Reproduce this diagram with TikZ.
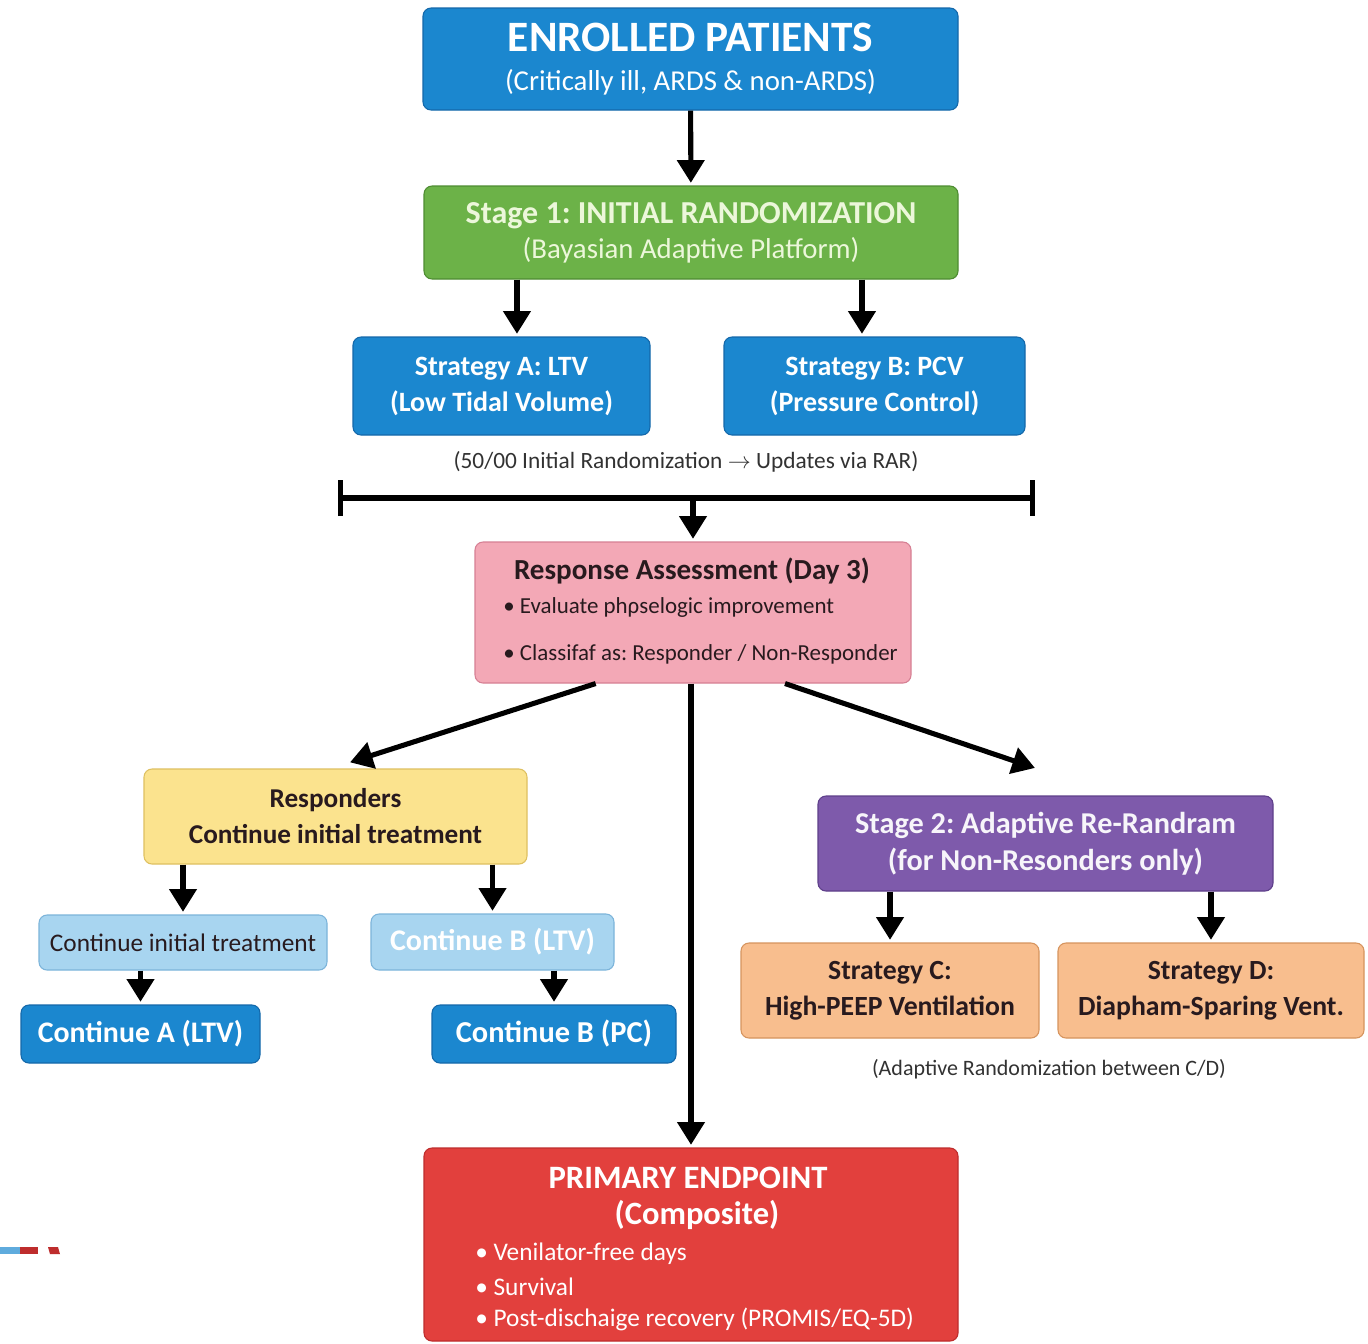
\documentclass[tikz,border=0pt]{standalone}
\usepackage{fontspec}
\setmainfont{Carlito}
\usetikzlibrary{arrows.meta}
\frenchspacing

\definecolor{boxblue}{RGB}{27,135,207}
\definecolor{boxblueD}{RGB}{20,104,170}
\definecolor{stgreen}{RGB}{108,178,72}
\definecolor{stgreenD}{RGB}{78,140,50}
\definecolor{stgreenT}{RGB}{236,247,218}
\definecolor{rpink}{RGB}{243,168,182}
\definecolor{rpinkD}{RGB}{214,128,148}
\definecolor{ryellow}{RGB}{251,227,142}
\definecolor{ryellowD}{RGB}{222,192,96}
\definecolor{lblue}{RGB}{168,213,240}
\definecolor{lblueD}{RGB}{124,180,218}
\definecolor{spurple}{RGB}{126,90,171}
\definecolor{spurpleD}{RGB}{94,63,138}
\definecolor{sorange}{RGB}{248,190,142}
\definecolor{sorangeD}{RGB}{214,148,94}
\definecolor{ered}{RGB}{226,64,61}
\definecolor{eredD}{RGB}{190,45,45}
\definecolor{darktxt}{RGB}{40,26,30}
\definecolor{notetxt}{RGB}{50,50,50}

\begin{document}
\begin{tikzpicture}[x=0.75pt,y=-0.75pt,
  box/.style={draw,rounded corners=6pt,line width=0.8pt,align=center,inner sep=0pt},
  arr/.style={line width=3.8pt,-{Triangle[length=17pt,width=20pt]},shorten >=2pt},
  txt/.style={inner sep=0pt},
  note/.style={txt,text=notetxt,font=\fontsize{17.5}{21}\selectfont},
]
\clip (0,0) rectangle (1368,1343);
\fill[white] (0,0) rectangle (1368,1343);

% top of the trial
\node[box,fill=boxblue,draw=boxblueD,text=white,minimum width=401.25pt,minimum height=76.5pt,
  font=\fontsize{21.6}{29.25}\selectfont] (enr) at (690.5,59)
  {{\fontsize{32.5}{32}\selectfont\bfseries ENROLLED PATIENTS}\\(Critically ill, ARDS \& non-ARDS)};
\node[box,fill=stgreen,draw=stgreenD,text=stgreenT,minimum width=400.5pt,minimum height=69.75pt,
  font=\fontsize{21.6}{26.25}\selectfont] (st1) at (691,232.5)
  {{\fontsize{24}{24}\selectfont\bfseries Stage 1: INITIAL RANDOMIZATION}\\(Bayasian Adaptive Platform)};
\node[box,fill=boxblue,draw=boxblueD,text=white,minimum width=222.75pt,minimum height=73.5pt,
  font=\fontsize{21}{27}\selectfont\bfseries] (sA) at (501.5,386)
  {Strategy A: LTV\\(Low Tidal Volume)};
\node[box,fill=boxblue,draw=boxblueD,text=white,minimum width=225.75pt,minimum height=73.5pt,
  font=\fontsize{21}{27}\selectfont\bfseries] (sB) at (874.5,386)
  {Strategy B: PCV\\(Pressure Control)};
\node[note] (rar) at (686,462) {(50/00 Initial Randomization $\rightarrow$ Updates via RAR)};

% day 3
\node[box,fill=rpink,draw=rpinkD,minimum width=327pt,minimum height=105.75pt] (resp) at (693,612.5) {};
\node[txt,text=darktxt,font=\fontsize{21.8}{26}\selectfont\bfseries] (respT) at (692,571) {Response Assessment (Day 3)};
\node[txt,text=darktxt,anchor=west,font=\fontsize{17.2}{20}\selectfont] (respB1) at (503,607) {• Evaluate phρselogic improvement};
\node[txt,text=darktxt,anchor=west,font=\fontsize{17.2}{20}\selectfont] (respB2) at (503,654) {• Classifaf as: Responder / Non-Responder};

\coordinate (barL) at (338,498);
\coordinate (barR) at (1035,498);
\coordinate (barC) at (resp.north |- barL);

% responders
\node[box,fill=ryellow,draw=ryellowD,text=darktxt,minimum width=287.25pt,minimum height=71.25pt,
  font=\fontsize{20.4}{27}\selectfont\bfseries] (yel) at (335.5,816.5)
  {Responders\\Continue initial treatment};
\node[box,fill=lblue,draw=lblueD,text=darktxt,minimum width=216pt,minimum height=41.25pt,
  font=\fontsize{19}{22}\selectfont] (lb1) at (183,942.5) {Continue initial treatment};
\node[box,fill=lblue,draw=lblueD,text=white,minimum width=182.25pt,minimum height=42pt,
  font=\fontsize{22.5}{26}\selectfont\bfseries] (lb2) at (492.5,942) {Continue B (LTV)};
\node[box,fill=boxblue,draw=boxblueD,text=white,minimum width=179.25pt,minimum height=43.5pt,
  font=\fontsize{22.4}{26}\selectfont\bfseries] (cA) at (140.5,1034) {Continue A (LTV)};
\node[box,fill=boxblue,draw=boxblueD,text=white,minimum width=183pt,minimum height=43.5pt,
  font=\fontsize{22.8}{26}\selectfont\bfseries] (cB) at (554,1034) {Continue B (PC)};

% non-responders
\node[box,fill=spurple,draw=spurpleD,text=white!94!spurple,minimum width=341.25pt,minimum height=71.25pt,
  font=\fontsize{22.7}{27.75}\selectfont\bfseries] (st2) at (1045.5,843.5)
  {Stage 2: Adaptive Re-Randram\\(for Non-Resonders only)};
\node[box,fill=sorange,draw=sorangeD,text=darktxt,minimum width=223.5pt,minimum height=71.25pt,
  font=\fontsize{20.8}{27}\selectfont\bfseries] (sC) at (890,990.5)
  {Strategy C:\\High-PEEP Ventilation};
\node[box,fill=sorange,draw=sorangeD,text=darktxt,minimum width=229.5pt,minimum height=71.25pt,
  font=\fontsize{20.8}{27}\selectfont\bfseries] (sD) at (1211,990.5)
  {Strategy D:\\Diapham-Sparing Vent.};
\node[note,font=\fontsize{16.5}{20}\selectfont] (cdnote) at (1049,1069) {(Adaptive Randomization between C/D)};

% endpoint
\node[box,fill=ered,draw=eredD,minimum width=400.5pt,minimum height=144.75pt] (endp) at (691,1244.5) {};
\node[txt,text=white,font=\fontsize{24.5}{28}\selectfont\bfseries] (endT1) at (688,1178) {PRIMARY ENDPOINT};
\node[txt,text=white,font=\fontsize{24.4}{28}\selectfont\bfseries] (endT2) at (697,1215) {(Composite)};
\node[txt,text=white,anchor=west,font=\fontsize{19}{22}\selectfont] (endB1) at (475,1254) {• Venilator-free days};
\node[txt,text=white,anchor=west,font=\fontsize{19}{22}\selectfont] (endB2) at (475,1287) {• Survival};
\node[txt,text=white,anchor=west,font=\fontsize{19}{22}\selectfont] (endB3) at (475,1319) {• Post-dischaige recovery (PROMIS/EQ-5D)};

% stray marks at the lower left
\fill[boxblue!70] (0,1247) rectangle (20,1254);
\fill[eredD] (20,1247) rectangle (38,1254);
\fill[eredD] (48,1247) -- (58,1247) -- (60,1254) -- (50,1254) -- cycle;

% connectors
\coordinate (sAin) at ([xshift=11.6pt]sA.north);
\coordinate (sBin) at ([xshift=-9.4pt]sB.north);
\draw[arr] (enr) -- (st1);
\draw[arr] (sAin |- st1.south) -- (sAin);
\draw[arr] (sBin |- st1.south) -- (sBin);
\draw[line width=3.8pt,{Bar[width=27pt]}-{Bar[width=27pt]}] (barL) -- (barR);
\draw[arr] (barC) -- (resp.north);
\draw[arr] ([xshift=-73pt]resp.south) -- ([xshift=9pt,yshift=4pt]yel.north);
\draw[arr] ([xshift=69pt]resp.south) -- ([xshift=-6pt,yshift=20pt]st2.north);
\draw[arr] (resp.south -| endp.north) -- (endp.north);
\draw[arr] (yel.south -| lb1.north) -- (lb1.north);
\draw[arr] (yel.south -| lb2.north) -- (lb2.north);
\draw[arr] (lb1.south -| cA.north) -- (cA.north);
\draw[arr] (lb2.south -| cB.north) -- (cB.north);
\draw[arr] (st2.south -| sC.north) -- (sC.north);
\draw[arr] (st2.south -| sD.north) -- (sD.north);
\end{tikzpicture}
\end{document}
